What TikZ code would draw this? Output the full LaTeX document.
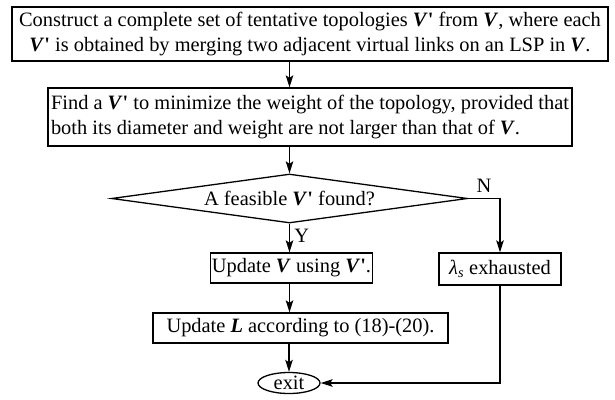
\documentclass[tikz,border=0pt]{standalone}
\usepackage{fontspec}
\setmainfont{Liberation Serif}
\usetikzlibrary{shapes.geometric,arrows.meta}

\newcommand{\Vp}{\textbf{\textit{V}\textquotesingle}}
\newcommand{\Vb}{\textbf{\textit{V}}}

\begin{document}
\begin{tikzpicture}[x=1pt, y=1pt, line width=1.3pt,
    font=\fontsize{20.4}{24.5}\selectfont,
    box/.style={draw, rectangle, inner sep=0pt},
    arr/.style={-{Stealth[length=12pt, width=7.5pt, inset=2.5pt]}}]
  \useasboundingbox (0,0) rectangle (615,-399);

  % Steps
  \node[box, minimum width=596, minimum height=54, align=center] (build) at (310,-34)
    {Construct a complete set of tentative topologies \Vp{} from \Vb, where each\\
     \Vp{} is obtained by merging two adjacent virtual links on an LSP in \Vb.};
  \node[box, minimum width=524, minimum height=58, align=left] (find) at (310,-117)
    {Find a \Vp{} to minimize the weight of the topology, provided that\\
     both its diameter and weight are not larger than that of \Vb.};
  \node[draw, diamond, aspect=7.3, inner sep=0pt, minimum width=356, minimum height=49]
    (feas) at (289.5,-198.5) {A feasible \Vp{} found?};
  \node[box, minimum width=162, minimum height=30] (updv) at (291.5,-268)
    {Update \Vb{} using \Vp.};
  \node[box, minimum width=122, minimum height=32] (exh) at (500,-269)
    {\textit{λ}\textsubscript{\textit{s}} exhausted};
  \node[box, minimum width=295, minimum height=30] (updl) at (300.5,-328)
    {Update \textbf{\textit{L}} according to (18)-(20).};
  \node[draw, ellipse, inner sep=0pt, minimum width=62, minimum height=21] (exit) at (289,-383)
    {exit};

  % Arrows
  \draw[arr] (build.south -| feas.north) -- (find.north -| feas.north);
  \draw[arr] (find.south -| feas.north) -- (feas.north);
  \draw[arr] (feas.east) -| (exh.north) node[pos=0.25, above=2pt] {N};
  \draw[arr] (feas.south) -- (feas.south |- updv.north) node[midway, right=1pt, yshift=2pt] {Y};
  \draw[arr] (updv.south -| feas.south) -- (updl.north -| feas.south);
  \draw[arr] (updl.south -| exit.north) -- (exit.north);
  \draw[arr] (exh.south) |- (exit.east);
\end{tikzpicture}
\end{document}
